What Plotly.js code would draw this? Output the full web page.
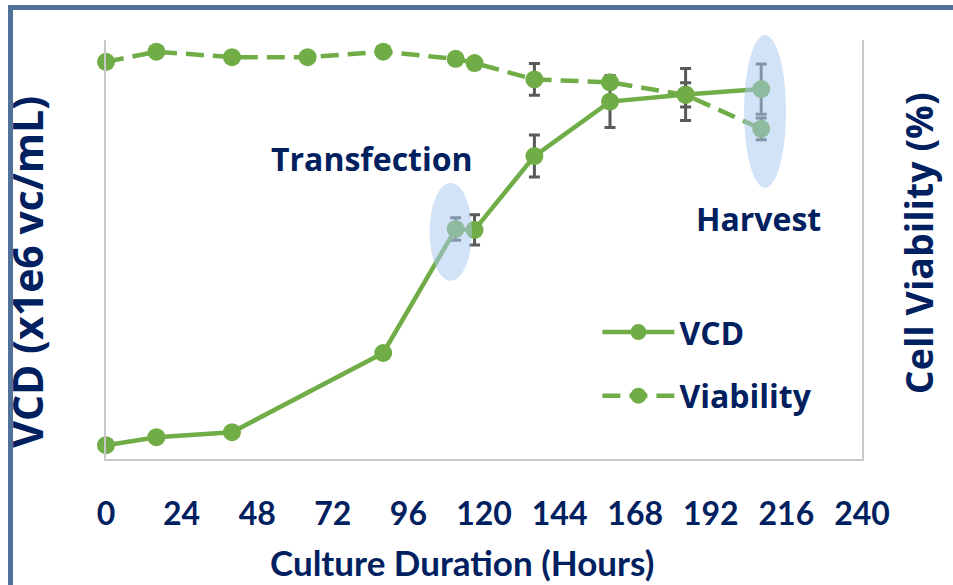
<!DOCTYPE html>
<html>
<head>
<meta charset="utf-8">
<script src="https://cdn.plot.ly/plotly-3.0.1.min.js"></script>
<style>
  html, body { margin: 0; padding: 0; background: #fff; }
  #wrap { position: relative; width: 953px; height: 585px; overflow: hidden; }
  #chart { width: 953px; height: 585px; }
  #frame { position: absolute; left: 8px; top: 5px; width: 2000px; height: 2000px;
           border-left: 5px solid #50729A; border-top: 5px solid #50729A; pointer-events: none; }
</style>
</head>
<body>
<div id="wrap">
  <div id="chart"></div>
  <div id="frame"></div>
</div>
<script>
// Culture time (hours)
const vcdHours = [0, 16, 40, 88, 111, 117, 136, 160, 184, 208];
const vcdValues = [0.33, 0.52, 0.64, 2.53, 5.49, 5.47, 7.23, 8.53, 8.70, 8.83];
const vcdErrors = [null, null, null, null, 0.27, 0.36, 0.50, 0.62, 0.62, 0.60];

const viabilityHours = [0, 16, 40, 64, 88, 111, 117, 136, 160, 184, 208];
const viabilityValues = [94.8, 97.2, 95.9, 95.9, 97.2, 95.5, 94.5, 90.6, 89.9, 86.9, 78.8];
const viabilityErrors = [null, null, null, null, null, null, null, 3.8, 1.0, 2.9, 2.6];

const xTickVals = [0, 24, 48, 72, 96, 120, 144, 168, 192, 216, 240];
const xTickText = ['0', '24', '48', '72', '96', '120', '144', '168', '192', '216', '240'];

const GREEN = 'rgb(112,173,71)';
const NAVY = '#002060';
const ERR = '#595959';
const AXIS = '#C8C8C8';
const NARROW = 'Lato, "Noto Sans", sans-serif';
const SANS = '"Open Sans", "Noto Sans", sans-serif';

const traces = [
  {
    name: 'VCD', x: vcdHours, y: vcdValues, yaxis: 'y', type: 'scatter', mode: 'lines+markers',
    line: { color: GREEN, width: 4.5 },
    marker: { color: GREEN, size: 18 },
    error_y: { type: 'data', array: vcdErrors, visible: true, color: ERR, thickness: 3, width: 5.5 },
    cliponaxis: false, legendgroup: 'a'
  },
  {
    name: 'Viability', x: viabilityHours, y: viabilityValues, yaxis: 'y2', type: 'scatter', mode: 'lines+markers',
    line: { color: GREEN, width: 4.5, dash: '18px,9px' },
    marker: { color: GREEN, size: 18 },
    error_y: { type: 'data', array: viabilityErrors, visible: true, color: ERR, thickness: 3, width: 5.5 },
    cliponaxis: false, legendgroup: 'b'
  }
];

const layout = {
  width: 953, height: 585,
  margin: { l: 105.5, r: 91, t: 40, b: 126 },
  paper_bgcolor: '#fff', plot_bgcolor: '#fff',
  showlegend: true,
  legend: {
    x: 0.65, y: 0.368, xanchor: 'left', yanchor: 'top',
    font: { family: SANS, size: 32, color: NAVY, weight: 'bold' },
    itemwidth: 72, tracegroupgap: 19, traceorder: 'grouped',
    bgcolor: 'rgba(0,0,0,0)'
  },
  xaxis: {
    range: [0, 240], tickvals: xTickVals, ticktext: xTickText,
    showgrid: false, zeroline: false, showline: true, linecolor: AXIS, linewidth: 2,
    ticks: 'outside', ticklen: 26, tickcolor: 'rgba(0,0,0,0)',
    tickfont: { family: NARROW, size: 32, color: NAVY, weight: 'bold' }
  },
  yaxis: {
    range: [0, 10], showgrid: false, zeroline: false, showline: true, linecolor: AXIS, linewidth: 2,
    showticklabels: false, ticks: ''
  },
  yaxis2: {
    range: [0, 100], overlaying: 'y', side: 'right', showgrid: false, zeroline: false,
    showline: true, linecolor: AXIS, linewidth: 2, showticklabels: false, ticks: ''
  },
  annotations: [
    { text: 'Culture Duration (Hours)', xref: 'paper', yref: 'paper', x: 0.471, y: -0.247,
      showarrow: false, xanchor: 'center', yanchor: 'middle',
      font: { family: NARROW, size: 35, color: NAVY, weight: 'bold' } },
    { text: 'VCD (x1e6 vc/mL)', xref: 'paper', yref: 'paper', x: -0.104, y: 0.448, textangle: -90,
      showarrow: false, xanchor: 'center', yanchor: 'middle',
      font: { family: SANS, size: 41, color: NAVY, weight: 'bold' } },
    { text: 'Cell Viability (%)', xref: 'paper', yref: 'paper', x: 1.074, y: 0.515, textangle: -90,
      showarrow: false, xanchor: 'center', yanchor: 'middle',
      font: { family: SANS, size: 37.5, color: NAVY, weight: 'bold' } },
    { text: 'Transfection', xref: 'paper', yref: 'paper', x: 0.352, y: 0.718,
      showarrow: false, xanchor: 'center', yanchor: 'middle',
      font: { family: SANS, size: 32, color: NAVY, weight: 'bold' } },
    { text: 'Harvest', xref: 'paper', yref: 'paper', x: 0.8625, y: 0.575,
      showarrow: false, xanchor: 'center', yanchor: 'middle',
      font: { family: SANS, size: 32, color: NAVY, weight: 'bold' } }
  ],
  shapes: [
    { type: 'circle', xref: 'paper', yref: 'paper', x0: 0.428, x1: 0.484, y0: 0.4255, y1: 0.659,
      fillcolor: 'rgba(170,200,240,0.53)', line: { width: 0 }, layer: 'above' },
    { type: 'circle', xref: 'paper', yref: 'paper', x0: 0.844, x1: 0.8995, y0: 0.647, y1: 1.012,
      fillcolor: 'rgba(170,200,240,0.53)', line: { width: 0 }, layer: 'above' }
  ]
};

Plotly.newPlot('chart', traces, layout, { displayModeBar: false, staticPlot: true });
</script>
</body>
</html>
